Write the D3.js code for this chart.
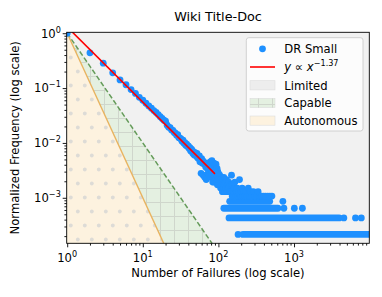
<!DOCTYPE html>
<meta charset="utf-8">
<style>
    html, body {
        margin: 0;
        background: #fff;
    }
    text {
        font-family: "DejaVu Sans", sans-serif;
        fill: #000;
    }
</style>
<svg id="chart" width="382" height="297"></svg>
<script src="https://d3js.org/d3.v7.min.js"></script>
<script>
    // counts of tasks per number of failures, x = 1..100
    var headCounts = [
        4650, 2046, 1325, 884, 656, 535, 437, 372, 316, 279,
        246, 219, 200, 181, 167, 153, 140, 130, 121, 116,
        98, 90, 88, 80, 79, 72, 70, 64, 66, 58,
        57, 55, 50, 52, 46, 47, 42, 44, 40, 41,
        37, 38, 33, 36, 34, 30, 32, 28, 31, 29,
        27, 30, 25, 26, 24, 27, 21, 23, 13, 24,
        20, 22, 12, 21, 19, 11, 20, 17, 10, 18,
        16, 19, 13, 17, 15, 12, 16, 21, 11, 19,
        13, 22, 14, 9, 18, 11, 20, 9, 12, 17,
        10, 15, 19, 9, 12, 16, 8, 14, 10, 13
    ];

    // sparse tail: single points beyond x = 100
    var tailX = [101, 103, 104, 106, 107, 109, 110, 112, 113, 115, 117, 118, 120, 122, 124, 126, 128, 130, 133, 135, 137, 140,
        143, 146, 149, 149, 152, 155, 158, 162, 165, 169, 173, 177, 181, 186, 190, 195, 200, 206, 212, 218, 225, 232, 240, 248,
        257, 266, 275, 290, 305, 320, 335, 350, 370, 395, 420, 450, 480, 510,
        182, 712, 735, 1010, 1290, 4560, 6500, 7760];
    var tailCounts = [10, 8, 12, 9, 7, 11, 8, 10, 6, 9, 7, 11, 8, 6, 9, 7, 10, 6, 8, 7, 9, 6,
        8, 6, 12, 8, 5, 8, 6, 7, 9, 5, 6, 7, 5, 6, 10, 5, 6, 7, 5, 6, 5, 6, 5, 7,
        5, 6, 5, 6, 5, 5, 6, 5, 5, 5, 5, 5, 5, 5,
        1, 4, 3, 3, 3, 2, 2, 2];

    // runs of consecutive failure counts sharing the same small count
    var bandCounts = [1, 2, 3, 4];
    var bandStart = [211, 138, 118, 141];
    var bandEnd = [9800, 3950, 612, 477];

    var maxCount = 4650;

    // fitted power law and tier boundaries
    var fitExponent = -1.37;
    var fitScale = 1.3;
    var fitRange = [1, 90];
    var tierNames = ["Limited", "Capable", "Autonomous"];
    var tierExponents = [null, -2, -3];

    var xMajor = [1, 10, 100, 1000];
    var yMajor = [1, 0.1, 0.01, 0.001];

    var plot = {left: 66.7, right: 369.3, top: 32.3, bottom: 243.3};

    var svg = d3.select("#chart");

    var x = d3.scaleLog().domain([0.985, 9900]).range([plot.left, plot.right]);
    var y = d3.scaleLog().domain([1.48e-4, 1.04]).range([plot.bottom, plot.top]);

    var defs = svg.append("defs");
    defs.append("clipPath").attr("id", "plotclip")
        .append("rect")
        .attr("x", plot.left).attr("y", plot.top)
        .attr("width", plot.right - plot.left).attr("height", plot.bottom - plot.top);

    // '+' hatch for Capable
    var grid = defs.append("pattern").attr("id", "gridhatch")
        .attr("patternUnits", "userSpaceOnUse")
        .attr("x", 6).attr("y", 6).attr("width", 14).attr("height", 14);
    grid.append("path").attr("d", "M0,0.5H14M0.5,0V14")
        .attr("stroke", "#cfd6cc").attr("stroke-width", 1);

    // dot hatch for Autonomous
    var dots = defs.append("pattern").attr("id", "dothatch")
        .attr("patternUnits", "userSpaceOnUse")
        .attr("x", 0).attr("y", 0).attr("width", 14).attr("height", 28);
    var dotColor = "#dddbd6";
    [[0.8, 1.5], [7.8, 15.5], [14.8, 1.5], [0.8, 29.5]].forEach(function(p) {
        dots.append("circle").attr("cx", p[0]).attr("cy", p[1]).attr("r", 1.9).attr("fill", dotColor);
    });

    var tierFill = ["#f1f1f1", "#e4f0e1", "#fdf2df"];
    var tierHatch = [null, "url(#gridhatch)", "url(#dothatch)"];
    var tierLine = [null, "#659b5a", "#e8b360"];

    var area = svg.append("g").attr("clip-path", "url(#plotclip)");

    // Limited = whole background
    area.append("rect")
        .attr("x", plot.left).attr("y", plot.top)
        .attr("width", plot.right - plot.left).attr("height", plot.bottom - plot.top)
        .attr("fill", tierFill[0]);

    var yMin = y.domain()[0];
    function boundary(k) {
        return [[1, 1], [1000, Math.pow(1000, tierExponents[k])]];
    }
    [1, 2].forEach(function(k) {
        var b = boundary(k);
        var poly = [[x(b[0][0]), y(b[0][1])], [x(b[1][0]), y(b[1][1])], [x(b[1][0]), y(yMin) + 5], [plot.left, y(yMin) + 5], [plot.left, y(b[0][1])]];
        var d = "M" + poly.join("L") + "Z";
        area.append("path").attr("d", d).attr("fill", tierFill[k]);
        area.append("path").attr("d", d).attr("fill", tierHatch[k]);
    });

    var line = d3.line().x(function(d) { return x(d[0]); }).y(function(d) { return y(d[1]); });
    area.append("path").attr("d", line(boundary(1)))
        .attr("fill", "none").attr("stroke", tierLine[1]).attr("stroke-width", 1.5)
        .attr("stroke-dasharray", "5,2.4");
    area.append("path").attr("d", line(boundary(2)))
        .attr("fill", "none").attr("stroke", tierLine[2]).attr("stroke-width", 1.4);

    // scatter
    var blue = "#1e90ff", r = 3.4;
    area.append("g").selectAll("line")
        .data(bandCounts)
        .enter().append("line")
        .attr("x1", function(d, i) { return x(bandStart[i]); })
        .attr("x2", function(d, i) { return x(bandEnd[i]); })
        .attr("y1", function(d) { return y(d / maxCount); })
        .attr("y2", function(d) { return y(d / maxCount); })
        .attr("stroke", blue).attr("stroke-width", 2 * r).attr("stroke-linecap", "round");

    area.append("g").selectAll("circle")
        .data(tailX)
        .enter().append("circle")
        .attr("cx", function(d) { return x(d); })
        .attr("cy", function(d, i) { return y(tailCounts[i] / maxCount); })
        .attr("r", r).attr("fill", blue);

    area.append("g").selectAll("circle")
        .data(headCounts)
        .enter().append("circle")
        .attr("cx", function(d, i) { return x(i + 1); })
        .attr("cy", function(d) { return y(d / maxCount); })
        .attr("r", r).attr("fill", blue);

    // fitted line
    area.append("path")
        .attr("d", line(fitRange.map(function(v) { return [v, fitScale * Math.pow(v, fitExponent)]; })))
        .attr("fill", "none").attr("stroke", "#ff0000").attr("stroke-width", 1.6);

    // axes
    function minorTicks(lo, hi) {
        var out = [];
        for (var e = lo; e <= hi; e++) {
            for (var m = 2; m <= 9; m++) out.push(m * Math.pow(10, e));
        }
        return out;
    }
    var xMinor = minorTicks(0, 3).filter(function(v) { return v < x.domain()[1]; });
    var yMinor = minorTicks(-4, -1).filter(function(v) { return v > y.domain()[0]; });

    function styleAxis(g) {
        g.select(".domain").remove();
        g.selectAll(".tick line").attr("stroke", "#000").attr("stroke-width", 0.9);
    }
    svg.append("g").attr("transform", "translate(0," + plot.bottom + ")")
        .call(d3.axisBottom(x).tickValues(xMajor).tickSize(4).tickFormat("")).call(styleAxis);
    svg.append("g").attr("transform", "translate(0," + plot.bottom + ")")
        .call(d3.axisBottom(x).tickValues(xMinor).tickSize(2.3).tickFormat("")).call(styleAxis);
    svg.append("g").attr("transform", "translate(" + plot.left + ",0)")
        .call(d3.axisLeft(y).tickValues(yMajor).tickSize(4).tickFormat("")).call(styleAxis);
    svg.append("g").attr("transform", "translate(" + plot.left + ",0)")
        .call(d3.axisLeft(y).tickValues(yMinor).tickSize(2.3).tickFormat("")).call(styleAxis);

    function powLabel(sel, v) {
        var e = Math.round(Math.log10(v));
        sel.append("tspan").text("10");
        sel.append("tspan").attr("dy", -5).attr("font-size", 8.1)
            .text(e < 0 ? "\u2212" + (-e) : String(e));
    }
    xMajor.forEach(function(v) {
        svg.append("text").attr("x", x(v)).attr("y", 261.7)
            .attr("text-anchor", "middle").attr("font-size", 11.6)
            .call(powLabel, v);
    });
    yMajor.forEach(function(v) {
        svg.append("text").attr("x", 60.8).attr("y", y(v) + 4.3)
            .attr("text-anchor", "end").attr("font-size", 11.6)
            .call(powLabel, v);
    });

    // spines
    svg.append("rect")
        .attr("x", plot.left).attr("y", plot.top)
        .attr("width", plot.right - plot.left).attr("height", plot.bottom - plot.top)
        .attr("fill", "none").attr("stroke", "#000").attr("stroke-width", 0.9);

    // titles
    svg.append("text").attr("x", (plot.left + plot.right) / 2).attr("y", 21.3)
        .attr("text-anchor", "middle").attr("font-size", 12.8).text("Wiki Title-Doc");
    svg.append("text").attr("x", (plot.left + plot.right) / 2).attr("y", 277)
        .attr("text-anchor", "middle").attr("font-size", 11.6).text("Number of Failures (log scale)");
    svg.append("text")
        .attr("transform", "translate(18.6," + (plot.top + plot.bottom) / 2 + ") rotate(-90)")
        .attr("text-anchor", "middle").attr("font-size", 11.6).text("Normalized Frequency (log scale)");

    // legend
    var legend = svg.append("g");
    legend.append("rect")
        .attr("x", 246.3).attr("y", 37.7).attr("width", 116.7).attr("height", 93.3).attr("rx", 2.5)
        .attr("fill", "rgba(255,255,255,0.8)").attr("stroke", "#cccccc").attr("stroke-width", 0.9);
    var rowY = [48.8, 67, 85.3, 103, 120.6];
    legend.append("circle").attr("cx", 262.5).attr("cy", rowY[0]).attr("r", r).attr("fill", blue);
    legend.append("line").attr("x1", 250).attr("x2", 275).attr("y1", rowY[1]).attr("y2", rowY[1])
        .attr("stroke", "#ff0000").attr("stroke-width", 1.6);
    tierNames.forEach(function(name, k) {
        var ry = rowY[k + 2];
        legend.append("rect").attr("x", 250).attr("y", ry - 4.6).attr("width", 25).attr("height", 9.2)
            .attr("fill", tierFill[k] === "#f1f1f1" ? "#ededed" : tierFill[k])
            .attr("stroke", "#dcdcdc").attr("stroke-width", 0.6);
        if (tierHatch[k]) {
            legend.append("rect").attr("x", 250).attr("y", ry - 4.6).attr("width", 25).attr("height", 9.2)
                .attr("fill", tierHatch[k]);
        }
        legend.append("text").attr("x", 284.3).attr("y", ry + 4.2).attr("font-size", 11.6).text(name);
    });
    legend.append("text").attr("x", 284.3).attr("y", rowY[0] + 4.2).attr("font-size", 11.6).text("DR Small");
    var fitText = legend.append("text").attr("x", 284.3).attr("y", rowY[1] + 4.2).attr("font-size", 11.6);
    fitText.append("tspan").attr("font-style", "italic").text("y");
    fitText.append("tspan").text(" \u221d ");
    fitText.append("tspan").attr("font-style", "italic").text("x");
    fitText.append("tspan").attr("dy", -5).attr("font-size", 8.1).text("\u22121.37");
</script>
